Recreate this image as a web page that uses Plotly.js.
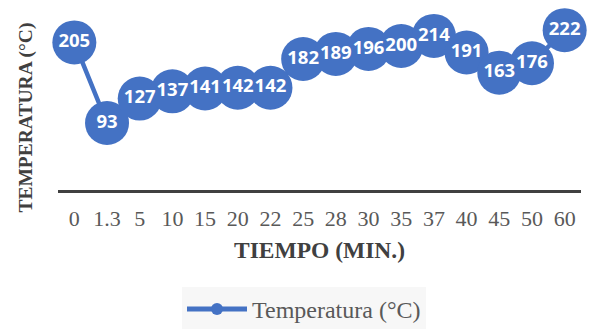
<!DOCTYPE html>
<html>
<head>
<meta charset="utf-8">
<script src="https://cdn.plot.ly/plotly-3.0.1.min.js"></script>
<style>html,body{margin:0;padding:0;background:#fff;}#chart{width:590px;height:329px;}</style>
</head>
<body>
<div id="chart"></div>
<script>
const categories = ['0','1.3','5','10','15','20','22','25','28','30','35','37','40','45','50','60'];
const temperatures = [205,93,127,137,141,142,142,182,189,196,200,214,191,163,176,222];
const seriesName = 'Temperatura (°C)';
const xTitle = 'TIEMPO (MIN.)';
const yTitle = 'TEMPERATURA (°C)';

const blue = '#4472C4';
const trace = {
  x: categories,
  y: temperatures,
  type: 'scatter',
  mode: 'lines+markers+text',
  name: seriesName,
  text: temperatures.map(String),
  textposition: 'middle center',
  textfont: {family: 'Open Sans', size: 18.5, color: '#FFFFFF', weight: 'bold'},
  line: {color: blue, width: 4.5},
  marker: {color: blue, size: 44, line: {width: 0}},
  cliponaxis: false,
  hoverinfo: 'x+y'
};

const layout = {
  width: 590, height: 329,
  margin: {l: 58, r: 9, t: 10, b: 139},
  paper_bgcolor: '#FFFFFF',
  plot_bgcolor: '#FFFFFF',
  showlegend: true,
  xaxis: {
    type: 'category',
    range: [-0.5, categories.length - 0.5],
    showline: true, linecolor: '#404040', linewidth: 3,
    showgrid: false, zeroline: false, ticks: '',
    ticklabelstandoff: 7,
    tickfont: {family: 'Liberation Serif', size: 22, color: '#595959'},
    automargin: false,
    title: {text: xTitle, standoff: 12, font: {family: 'Liberation Serif', size: 23.5, color: '#404040', weight: 'bold'}}
  },
  yaxis: {
    range: [0, 250],
    showline: false, showgrid: false, zeroline: false,
    showticklabels: false, ticks: '', automargin: false
  },
  annotations: [{
    text: yTitle, textangle: -90,
    xref: 'paper', yref: 'paper',
    x: -0.062, y: (190 - 118) / 180, xanchor: 'center', yanchor: 'middle',
    showarrow: false,
    font: {family: 'Liberation Serif', size: 19.5, color: '#404040', weight: 'bold'}
  }],
  legend: {
    orientation: 'h',
    xref: 'container', yref: 'container',
    x: 304/590, xanchor: 'center',
    y: 1 - 287/329, yanchor: 'top',
    bgcolor: '#F7F7F7',
    itemsizing: 'constant',
    itemwidth: 60,
    font: {family: 'Liberation Serif', size: 24, color: '#595959'}
  }
};

Plotly.newPlot('chart', [trace], layout, {displayModeBar: false, staticPlot: true});
</script>
</body>
</html>
